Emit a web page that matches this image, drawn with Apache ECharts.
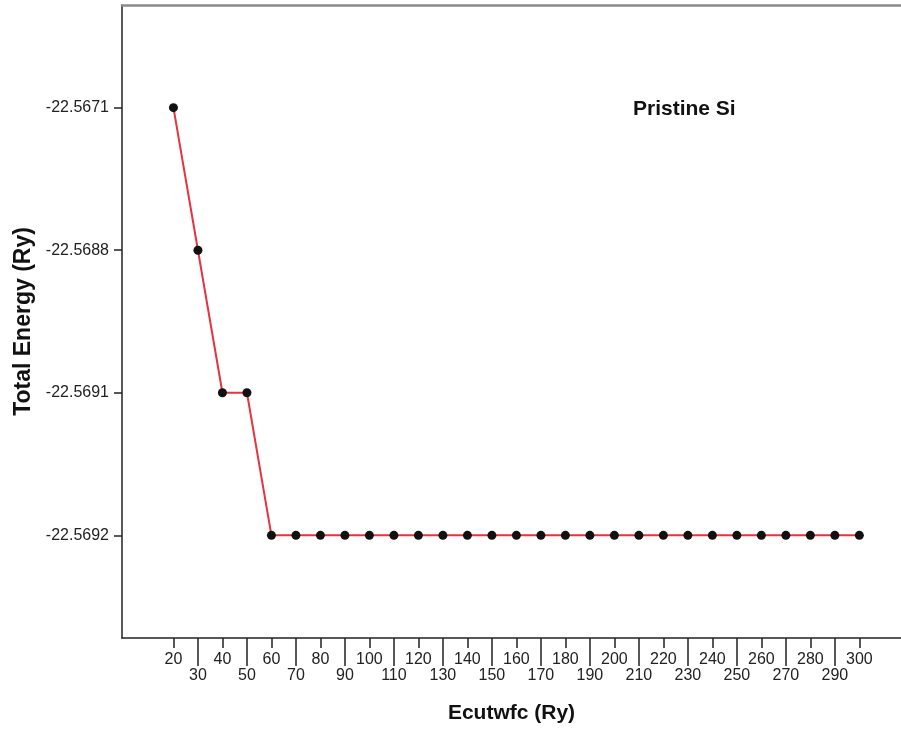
<!DOCTYPE html>
<html>
<head>
<meta charset="utf-8">
<script src="https://cdn.jsdelivr.net/npm/echarts@6/dist/echarts.min.js"></script>
<style>
  html, body { margin: 0; padding: 0; background: #fff; }
  #chart { width: 901px; height: 729px; }
</style>
</head>
<body>
<div id="chart"></div>
<script>
// cutoff energies (Ry)
const ecut = [20, 30, 40, 50, 60, 70, 80, 90, 100, 110, 120, 130, 140, 150, 160,
  170, 180, 190, 200, 210, 220, 230, 240, 250, 260, 270, 280, 290, 300];
// total energy (Ry) at each cutoff
const energy = [-22.5671, -22.5688, -22.5691, -22.5691, -22.5692, -22.5692, -22.5692,
  -22.5692, -22.5692, -22.5692, -22.5692, -22.5692, -22.5692, -22.5692, -22.5692,
  -22.5692, -22.5692, -22.5692, -22.5692, -22.5692, -22.5692, -22.5692, -22.5692,
  -22.5692, -22.5692, -22.5692, -22.5692, -22.5692, -22.5692];
// y axis is categorical: distinct energy levels, bottom to top
const levels = [-22.5692, -22.5691, -22.5688, -22.5671];

const ticksUpper = ecut.filter((v, i) => i % 2 === 0);
const ticksLower = ecut.filter((v, i) => i % 2 === 1);
const levelIdx = levels.map((v, i) => i);

const FONT = '"Liberation Sans", Arial, sans-serif';
const myChart = echarts.init(document.getElementById('chart'));

const data = ecut.map((x, i) => [x, levels.indexOf(energy[i])]);

const option = {
  animation: false,
  backgroundColor: '#fff',
  title: {
    text: 'Pristine Si',
    left: 628,
    top: 94,
    textStyle: { fontFamily: FONT, fontSize: 21, fontWeight: 'bold', color: '#111' }
  },
  grid: { left: 122, right: 0, top: 5, bottom: 91 },
  xAxis: [
    {
      type: 'value',
      min: -1,
      max: 317,
      position: 'bottom',
      name: 'Ecutwfc (Ry)',
      nameLocation: 'middle',
      nameGap: 65,
      nameTextStyle: { fontFamily: FONT, fontSize: 21, fontWeight: 'bold', color: '#111' },
      axisLine: { show: true, onZero: false, lineStyle: { color: '#222', width: 1.5 } },
      axisTick: { show: true, length: 10, customValues: ticksUpper, lineStyle: { color: '#222', width: 1.5 } },
      axisLabel: { customValues: ticksUpper, margin: 14, fontFamily: FONT, fontSize: 16, color: '#222' },
      splitLine: { show: false }
    },
    {
      type: 'value',
      min: -1,
      max: 317,
      position: 'bottom',
      axisLine: { show: false, onZero: false },
      axisTick: { show: true, length: 28, customValues: ticksLower, lineStyle: { color: '#222', width: 1.5 } },
      axisLabel: { customValues: ticksLower, margin: 30, fontFamily: FONT, fontSize: 16, color: '#222' },
      splitLine: { show: false }
    },
    {
      type: 'value',
      min: -1,
      max: 317,
      position: 'top',
      axisLine: { show: true, onZero: false, lineStyle: { color: '#8a8a8a', width: 2.5 } },
      axisTick: { show: false },
      axisLabel: { show: false },
      splitLine: { show: false }
    }
  ],
  yAxis: {
    type: 'value',
    min: -0.72,
    max: 3.72,
    name: 'Total Energy (Ry)',
    nameLocation: 'middle',
    nameGap: 86,
    nameTextStyle: { fontFamily: FONT, fontSize: 23, fontWeight: 'bold', color: '#111' },
    axisLine: { show: true, onZero: false, lineStyle: { color: '#222', width: 1.5 } },
    axisTick: { show: true, length: 8, customValues: levelIdx, lineStyle: { color: '#222', width: 1.5 } },
    axisLabel: {
      customValues: levelIdx,
      margin: 13,
      fontFamily: FONT,
      fontSize: 16,
      color: '#222',
      formatter: v => levels[Math.round(v)].toFixed(4)
    },
    splitLine: { show: false }
  },
  series: [{
    type: 'line',
    xAxisIndex: 0,
    data: data,
    symbol: 'circle',
    symbolSize: 9,
    lineStyle: { color: '#e5343f', width: 2 },
    itemStyle: { color: '#111' },
    z: 3
  }]
};

myChart.setOption(option);
</script>
</body>
</html>
